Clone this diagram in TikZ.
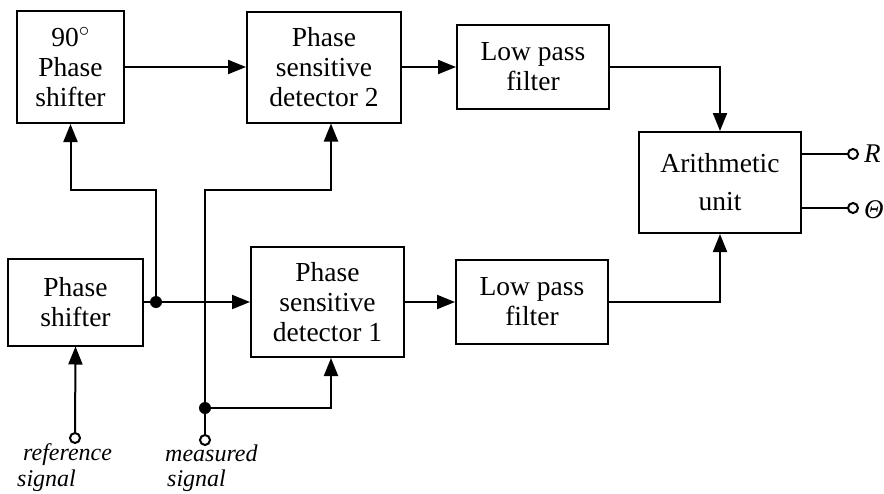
\documentclass[tikz,border=0pt]{standalone}
\usepackage{fontspec}
\setmainfont{Liberation Serif}
\usetikzlibrary{arrows.meta,positioning,calc}

\tikzset{
  block/.style={draw, line width=2pt, align=center, inner sep=0pt,
    font=\fontsize{27.5}{30}\selectfont},
  wire/.style={line width=2pt},
  arr/.style={wire, -{Triangle[length=18pt,width=14pt]}},
  jdot/.style={circle, fill, inner sep=0pt, minimum size=12pt},
  term/.style={circle, draw, line width=2pt, fill=white, inner sep=0pt, minimum size=10pt},
  lbl/.style={font=\fontsize{24}{28}\selectfont\itshape, inner sep=0pt, anchor=west}
}

\begin{document}
\begin{tikzpicture}[x=1pt,y=-1pt]
    \useasboundingbox (0,0) rectangle (884,493);

    % Upper branch
    \node[block, minimum width=107pt, minimum height=112pt] (shift90) at (70.5,67) {90$^\circ$\\Phase\\shifter};
    \node[block, minimum width=154pt, minimum height=111pt] (psd2) at (324,67) {Phase\\sensitive\\detector 2};
    \node[block, minimum width=152pt, minimum height=84pt] (lpf2) at (533,67) {Low pass\\filter};

    % Lower branch
    \node[block, minimum width=135pt, minimum height=87pt] (shift) at (75.5,302) {Phase\\shifter};
    \node[block, minimum width=153pt, minimum height=110pt] (psd1) at (327.5,302) {Phase\\sensitive\\detector 1};
    \node[block, minimum width=152pt, minimum height=84pt] (lpf1) at (532,302) {Low pass\\filter};

    % Arithmetic unit
    \node[block, minimum width=162pt, minimum height=101pt] (arith) at (720,182.5) {Arithmetic\\[8pt]unit};

    % Inputs, junctions and outputs
    \node[term] (rs) at (75,438) {};
    \node[term] (ms) at (205,440) {};
    \node[jdot] (j1) at (156,302) {};
    \node[jdot] (j2) at (205,408) {};
    \node[term] (tR) at (853,154) {};
    \node[term] (tT) at (853,208) {};
    \coordinate (k1) at (156,190);
    \coordinate (k2) at (331,190);

    % Reference path
    \draw[arr] (rs) -- (shift.south);
    \draw[arr] (shift.east) -- (psd1.west);
    \draw[arr] (j1.center) -- (k1) -| (shift90.south);
    \draw[arr] (shift90.east) -- (psd2.west);

    % Measured signal
    \draw[arr] (ms) |- (k2) -- (k2 |- psd2.south);
    \draw[arr] (j2.center) -| (k2 |- psd1.south);

    % Filters and arithmetic unit
    \draw[arr] (psd2.east) -- (lpf2.west);
    \draw[arr] (psd1.east) -- (lpf1.west);
    \draw[arr] (lpf2.east) -| (arith.north);
    \draw[arr] (lpf1.east) -| (arith.south);
    \draw[wire] (arith.east |- tR) -- (tR);
    \draw[wire] (arith.east |- tT) -- (tT);

    % Labels
    \node[lbl] (refa) at (23,455) {reference};
    \node[lbl] (refb) at (17,481) {signal};
    \node[lbl] (mesa) at (165,453) {measured};
    \node[lbl] (mesb) at (167,481) {signal};
    \node[lbl, font=\fontsize{27}{30}\selectfont\itshape] (lR) at (864,154) {R};
    \node[lbl, font=\fontsize{27}{30}\selectfont\itshape] (lT) at (864,210) {Θ};
\end{tikzpicture}
\end{document}
